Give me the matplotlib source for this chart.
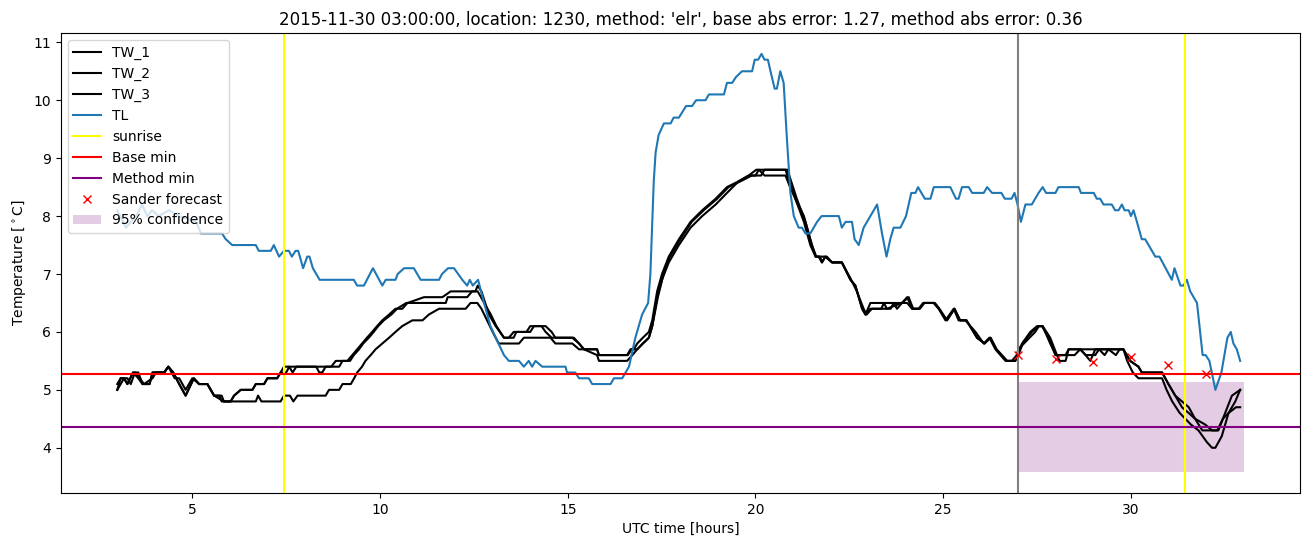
#!/usr/bin/env python3
import matplotlib
matplotlib.use("Agg")
import matplotlib.pyplot as plt

TITLE = ("2015-11-30 03:00:00, location: 1230, method: 'elr', "
         "base abs error: 1.27, method abs error: 0.36")

# road surface temperatures (hours since 00 UTC, deg C)
TW1_T = [3.0, 3.09, 3.18, 3.27, 3.42, 3.56, 3.67, 3.86, 3.94, 4.25, 4.36, 4.49, 4.65, 4.82,
         5.04, 5.18, 5.4, 5.58, 5.78, 5.84, 6.02, 6.11, 6.29, 6.6, 6.69, 6.91, 7.0, 7.26,
         7.35, 7.44, 7.6, 8.19, 8.7, 8.82, 9.13, 9.26, 9.39, 9.52, 9.65, 9.79, 9.92, 10.06,
         10.24, 10.41, 10.59, 10.73, 11.17, 11.66, 11.88, 12.54, 12.6, 12.7, 12.9, 13.08,
         13.3, 13.43, 13.56, 13.9, 14.0, 14.41, 14.57, 14.67, 15.16, 15.3, 15.43, 15.78,
         15.83, 16.58, 16.67, 16.76, 16.85, 17.0, 17.16, 17.25, 17.38, 17.51, 17.69, 17.96,
         18.27, 18.58, 18.94, 19.24, 19.55, 19.82, 20.02, 20.8, 20.9, 21.06, 21.29, 21.46,
         21.6, 21.9, 22.04, 22.3, 22.53, 22.66, 22.84, 22.93, 23.06, 23.9, 24.04, 24.17,
         24.35, 24.47, 24.75, 24.88, 25.06, 25.28, 25.41, 25.59, 25.86, 26.08, 26.23, 26.39,
         26.66, 26.83, 26.96, 27.1, 27.32, 27.5, 27.63, 27.81, 27.99, 28.26, 28.34, 28.65,
         28.79, 28.92, 29.05, 29.8, 29.98, 30.2, 30.29, 30.83, 31.0, 31.18, 31.36, 31.54,
         31.71, 31.98, 32.16, 32.33, 32.51, 32.69, 32.91]
TW1_V = [5.0, 5.2, 5.2, 5.1, 5.3, 5.3, 5.1, 5.1, 5.3, 5.3, 5.4, 5.3, 5.1, 4.9,
         5.2, 5.1, 5.1, 4.9, 4.9, 4.8, 4.8, 4.9, 5.0, 5.0, 5.1, 5.1, 5.2, 5.2,
         5.3, 5.4, 5.4, 5.4, 5.4, 5.5, 5.5, 5.6, 5.7, 5.8, 5.9, 6.0, 6.1, 6.2,
         6.3, 6.4, 6.4, 6.5, 6.6, 6.6, 6.7, 6.7, 6.8, 6.7, 6.3, 6.1,
         5.9, 5.9, 6.0, 6.0, 6.1, 6.1, 6.0, 5.9, 5.9, 5.8, 5.7, 5.7,
         5.6, 5.6, 5.7, 5.7, 5.8, 5.9, 6.0, 6.2, 6.7, 7.0, 7.3, 7.6,
         7.9, 8.1, 8.3, 8.5, 8.6, 8.7, 8.8, 8.8, 8.6, 8.3, 8.0, 7.6,
         7.3, 7.3, 7.2, 7.2, 6.9, 6.8, 6.4, 6.3, 6.5, 6.5, 6.6, 6.4,
         6.4, 6.5, 6.5, 6.4, 6.2, 6.4, 6.2, 6.2, 6.0, 5.8, 5.9, 5.7,
         5.5, 5.5, 5.6, 5.8, 6.0, 6.1, 6.1, 5.9, 5.6, 5.6, 5.7, 5.7,
         5.6, 5.5, 5.7, 5.7, 5.5, 5.4, 5.3, 5.3, 5.1, 4.9, 4.8, 4.7,
         4.5, 4.4, 4.3, 4.3, 4.6, 4.9, 5.0]

TW2_T = [3.0, 3.09, 3.27, 3.36, 3.47, 3.6, 3.71, 3.94, 4.03, 4.25, 4.36, 4.53, 4.65, 4.82,
         5.0, 5.18, 5.4, 5.58, 5.72, 5.78, 6.02, 6.11, 6.29, 6.6, 6.69, 6.91, 7.0, 7.26,
         7.35, 7.5, 7.58, 7.67, 7.77, 8.3, 8.38, 8.46, 8.55, 8.91, 9.0, 9.2, 9.3, 9.44,
         9.55, 9.7, 9.83, 9.95, 10.1, 10.3, 10.45, 10.7, 11.75, 11.8, 12.32, 12.45, 12.6,
         12.95, 13.1, 13.3, 13.56, 13.63, 14.0, 14.1, 14.3, 14.41, 14.57, 15.12, 15.3,
         15.43, 15.78, 15.83, 16.6, 16.7, 16.85, 17.0, 17.16, 17.25, 17.4, 17.55, 17.72,
         18.0, 18.3, 18.62, 18.98, 19.28, 19.6, 19.9, 20.15, 20.24, 20.85, 20.95, 21.1,
         21.33, 21.5, 21.62, 21.72, 21.77, 21.86, 22.04, 22.3, 22.55, 22.7, 22.88, 22.96,
         23.1, 23.6, 23.68, 23.77, 23.9, 24.08, 24.2, 24.38, 24.5, 24.78, 24.9, 25.1, 25.3,
         25.45, 25.62, 25.9, 26.1, 26.26, 26.42, 26.7, 26.92, 27.0, 27.12, 27.36, 27.54,
         27.65, 27.85, 28.03, 28.1, 28.26, 28.34, 28.65, 28.8, 29.05, 29.15, 29.3, 29.4,
         29.6, 29.7, 29.8, 29.9, 30.05, 30.2, 30.83, 30.95, 31.1, 31.3, 31.45, 31.6, 31.8,
         32.02, 32.16, 32.25, 32.42, 32.6, 32.78, 32.91]
TW2_V = [5.1, 5.2, 5.2, 5.1, 5.3, 5.2, 5.1, 5.2, 5.3, 5.3, 5.4, 5.2, 5.2, 5.0,
         5.2, 5.1, 5.1, 4.9, 4.9, 4.8, 4.8, 4.9, 5.0, 5.0, 5.1, 5.1, 5.2, 5.2,
         5.3, 5.3, 5.4, 5.3, 5.4, 5.4, 5.3, 5.3, 5.4, 5.4, 5.5, 5.5, 5.6, 5.7,
         5.8, 5.9, 6.0, 6.1, 6.2, 6.3, 6.4, 6.5, 6.5, 6.6, 6.6, 6.7, 6.7,
         6.3, 6.1, 5.9, 5.9, 6.0, 6.0, 6.1, 6.1, 6.0, 5.9, 5.9, 5.8,
         5.7, 5.7, 5.6, 5.6, 5.7, 5.7, 5.8, 5.9, 6.1, 6.6, 7.0, 7.3,
         7.6, 7.9, 8.1, 8.3, 8.5, 8.6, 8.7, 8.7, 8.8, 8.8, 8.6, 8.3,
         7.9, 7.5, 7.3, 7.3, 7.2, 7.3, 7.2, 7.2, 6.9, 6.7, 6.4, 6.3,
         6.4, 6.4, 6.5, 6.4, 6.5, 6.6, 6.4, 6.4, 6.5, 6.5, 6.4, 6.2, 6.4,
         6.2, 6.2, 5.9, 5.8, 5.9, 5.7, 5.5, 5.5, 5.6, 5.8, 6.0, 6.1,
         6.1, 5.9, 5.6, 5.5, 5.5, 5.7, 5.7, 5.6, 5.6, 5.7, 5.6, 5.7,
         5.6, 5.7, 5.7, 5.5, 5.3, 5.2, 5.2, 5.0, 4.8, 4.6, 4.5, 4.4, 4.3,
         4.1, 4.0, 4.0, 4.2, 4.6, 4.8, 5.0]

TW3_T = [3.0, 3.09, 3.18, 3.27, 3.42, 3.56, 3.67, 3.86, 3.94, 4.25, 4.36, 4.49, 4.65, 4.82,
         5.04, 5.18, 5.4, 5.58, 5.84, 6.69, 6.75, 6.84, 7.35, 7.44, 7.6, 7.69, 7.8, 8.55,
         8.64, 8.91, 9.0, 9.22, 9.31, 9.39, 9.52, 9.61, 9.75, 9.88, 10.06, 10.24, 10.41,
         10.59, 10.86, 11.13, 11.3, 11.57, 12.28, 12.41, 12.59, 12.7, 13.0, 13.16, 13.7,
         13.83, 14.54, 14.67, 15.12, 15.3, 15.43, 15.78, 15.83, 16.58, 16.72, 16.85, 17.0,
         17.16, 17.25, 17.38, 17.51, 17.69, 17.96, 18.27, 18.58, 18.94, 19.24, 19.55, 19.82,
         20.0, 20.09, 20.24, 20.8, 20.92, 21.06, 21.29, 21.46, 21.6, 21.68, 21.77, 21.86,
         22.04, 22.3, 22.53, 22.66, 22.84, 22.93, 23.06, 23.35, 23.42, 23.5, 23.9, 24.04,
         24.17, 24.35, 24.47, 24.75, 24.88, 25.1, 25.3, 25.45, 25.62, 25.9, 26.1, 26.26,
         26.42, 26.7, 26.92, 27.0, 27.15, 27.3, 27.45, 27.55, 27.65, 27.85, 28.0, 28.5,
         28.65, 29.8, 29.98, 30.2, 30.29, 30.83, 31.0, 31.18, 31.36, 31.54, 31.71, 31.9,
         32.3, 32.45, 32.6, 32.8, 32.91]
TW3_V = [5.0, 5.1, 5.2, 5.1, 5.3, 5.2, 5.1, 5.1, 5.3, 5.3, 5.4, 5.3, 5.1, 4.9,
         5.2, 5.1, 5.1, 4.9, 4.8, 4.8, 4.9, 4.8, 4.8, 4.9, 4.9, 4.8, 4.9, 4.9,
         5.0, 5.0, 5.1, 5.1, 5.2, 5.3, 5.4, 5.5, 5.6, 5.7, 5.8, 5.9, 6.0,
         6.1, 6.2, 6.2, 6.3, 6.4, 6.4, 6.5, 6.5, 6.4, 6.0, 5.8, 5.8,
         5.9, 5.9, 5.8, 5.8, 5.7, 5.7, 5.6, 5.5, 5.5, 5.6, 5.7, 5.8,
         5.9, 6.1, 6.6, 6.9, 7.2, 7.5, 7.8, 8.0, 8.2, 8.4, 8.6, 8.7,
         8.7, 8.8, 8.7, 8.7, 8.5, 8.3, 7.9, 7.5, 7.3, 7.3, 7.2, 7.3,
         7.2, 7.2, 6.9, 6.8, 6.4, 6.3, 6.4, 6.4, 6.5, 6.4, 6.5, 6.5,
         6.4, 6.4, 6.5, 6.5, 6.4, 6.2, 6.4, 6.2, 6.2, 5.9, 5.8, 5.9,
         5.7, 5.5, 5.5, 5.7, 5.8, 5.9, 6.0, 6.1, 6.1, 5.8, 5.6, 5.6,
         5.7, 5.7, 5.5, 5.4, 5.3, 5.3, 5.1, 4.9, 4.7, 4.6, 4.5, 4.3,
         4.3, 4.5, 4.6, 4.7, 4.7]

# air temperature
TL_T = [3.0, 3.23, 3.5, 3.66, 3.8, 3.93, 4.1, 4.38, 4.64, 5.1, 5.23, 5.79, 5.89, 6.06,
        6.69, 6.77, 7.09, 7.17, 7.31, 7.44, 7.57, 7.65, 7.75, 7.82, 7.95, 8.06, 8.12, 8.21,
        8.3, 8.39, 9.3, 9.39, 9.57, 9.81, 10.06, 10.15, 10.41, 10.47, 10.64, 10.9, 11.08,
        11.57, 11.65, 11.81, 11.97, 12.19, 12.32, 12.39, 12.47, 12.61, 12.77, 12.94, 13.08,
        13.3, 13.43, 13.7, 13.83, 13.96, 14.05, 14.14, 14.32, 14.94, 14.98, 15.2, 15.3,
        15.56, 15.65, 16.14, 16.23, 16.45, 16.63, 16.8, 16.98, 17.14, 17.2, 17.29, 17.34,
        17.42, 17.56, 17.74, 17.82, 17.96, 18.15, 18.31, 18.42, 18.67, 18.76, 19.16, 19.24,
        19.38, 19.48, 19.64, 19.91, 19.98, 20.07, 20.16, 20.24, 20.33, 20.4, 20.51, 20.57,
        20.66, 20.75, 20.84, 20.93, 21.02, 21.15, 21.24, 21.33, 21.46, 21.64, 21.76, 22.22,
        22.3, 22.4, 22.57, 22.64, 22.75, 22.88, 23.24, 23.37, 23.49, 23.59, 23.68, 23.86,
        24.01, 24.15, 24.26, 24.33, 24.51, 24.66, 24.75, 25.19, 25.34, 25.41, 25.5, 25.68,
        25.77, 26.08, 26.17, 26.3, 26.55, 26.64, 26.82, 26.9, 26.98, 27.07, 27.19, 27.36,
        27.54, 27.65, 27.74, 27.99, 28.07, 28.61, 28.67, 29.01, 29.09, 29.18, 29.27, 29.49,
        29.58, 29.67, 29.76, 29.83, 29.94, 30.0, 30.07, 30.16, 30.29, 30.38, 30.56, 30.65,
        30.76, 31.09, 31.16, 31.32, 31.4, 31.49, 31.58, 31.76, 31.91, 31.99, 32.09, 32.25,
        32.41, 32.57, 32.66, 32.73, 32.82, 32.91]
TL_V = [8.1, 7.8, 8.0, 8.2, 8.0, 8.1, 8.0, 8.1, 8.0, 7.9, 7.7, 7.7, 7.6, 7.5,
        7.5, 7.4, 7.4, 7.5, 7.3, 7.4, 7.4, 7.3, 7.4, 7.4, 7.1, 7.3, 7.3, 7.1,
        7.0, 6.9, 6.9, 6.8, 6.8, 7.1, 6.8, 6.9, 6.9, 7.0, 7.1, 7.1, 6.9,
        6.9, 7.0, 7.1, 7.1, 6.9, 6.8, 6.9, 6.8, 6.9, 6.5, 6.1, 5.9,
        5.6, 5.5, 5.5, 5.4, 5.5, 5.4, 5.5, 5.4, 5.4, 5.3, 5.3, 5.2,
        5.2, 5.1, 5.1, 5.2, 5.2, 5.4, 5.9, 6.3, 6.5, 7.0, 8.6, 9.1,
        9.4, 9.6, 9.6, 9.7, 9.7, 9.9, 9.9, 10.0, 10.0, 10.1, 10.1, 10.3,
        10.3, 10.4, 10.5, 10.5, 10.7, 10.7, 10.8, 10.7, 10.7, 10.5, 10.2, 10.2,
        10.5, 10.3, 9.3, 8.4, 8.0, 7.8, 7.8, 7.7, 7.7, 7.9, 8.0, 8.0,
        7.8, 7.9, 7.9, 7.6, 7.5, 7.8, 8.2, 7.7, 7.3, 7.6, 7.8, 7.8,
        8.0, 8.4, 8.4, 8.5, 8.3, 8.3, 8.5, 8.5, 8.3, 8.3, 8.5, 8.5,
        8.4, 8.4, 8.5, 8.4, 8.4, 8.3, 8.3, 8.4, 8.2, 7.9, 8.2, 8.2,
        8.4, 8.5, 8.4, 8.4, 8.5, 8.5, 8.4, 8.4, 8.3, 8.3, 8.2, 8.2,
        8.1, 8.1, 8.2, 8.1, 8.1, 8.0, 8.1, 7.9, 7.6, 7.6, 7.4, 7.3,
        7.3, 6.9, 7.1, 6.8, 6.8, 6.9, 6.7, 6.5, 5.6, 5.6, 5.5, 5.0,
        5.3, 5.9, 6.0, 5.8, 5.7, 5.5]

SUNRISE = [7.44, 31.44]
FORECAST_START = 27.0
BASE_MIN = 5.27
METHOD_MIN = 4.36

SANDER_T = [27, 28, 29, 30, 31, 32]
SANDER_V = [5.60, 5.54, 5.48, 5.57, 5.43, 5.28]

CONF_T = [27.0, 33.0]
CONF_LO = 3.58
CONF_HI = 5.14


def main():
    fig = plt.figure(figsize=(13.11, 5.47), dpi=100)
    ax = fig.add_axes([0.0465, 0.0987, 0.945, 0.841])

    ax.plot(TW1_T, TW1_V, color="black", label="TW_1")
    ax.plot(TW2_T, TW2_V, color="black", label="TW_2")
    ax.plot(TW3_T, TW3_V, color="black", label="TW_3")
    ax.plot(TL_T, TL_V, color="C0", label="TL")

    ax.axvline(FORECAST_START, color="grey")
    for i, s in enumerate(SUNRISE):
        ax.axvline(s, color="yellow", label="sunrise" if i == 0 else None)
    ax.axhline(BASE_MIN, color="red", label="Base min")
    ax.axhline(METHOD_MIN, color="purple", label="Method min")

    ax.plot(SANDER_T, SANDER_V, "x", color="red", label="Sander forecast")
    ax.fill_between(CONF_T, CONF_LO, CONF_HI, color="purple", alpha=0.2,
                    linewidth=0, label="95% confidence")

    ax.set_xlabel("UTC time [hours]")
    ax.set_ylabel(r"Temperature [$^\circ$C]")
    ax.set_title(TITLE)
    ax.legend(loc="upper left")

    fig.savefig("out.png", dpi=100)
    plt.close(fig)


if __name__ == "__main__":
    main()
